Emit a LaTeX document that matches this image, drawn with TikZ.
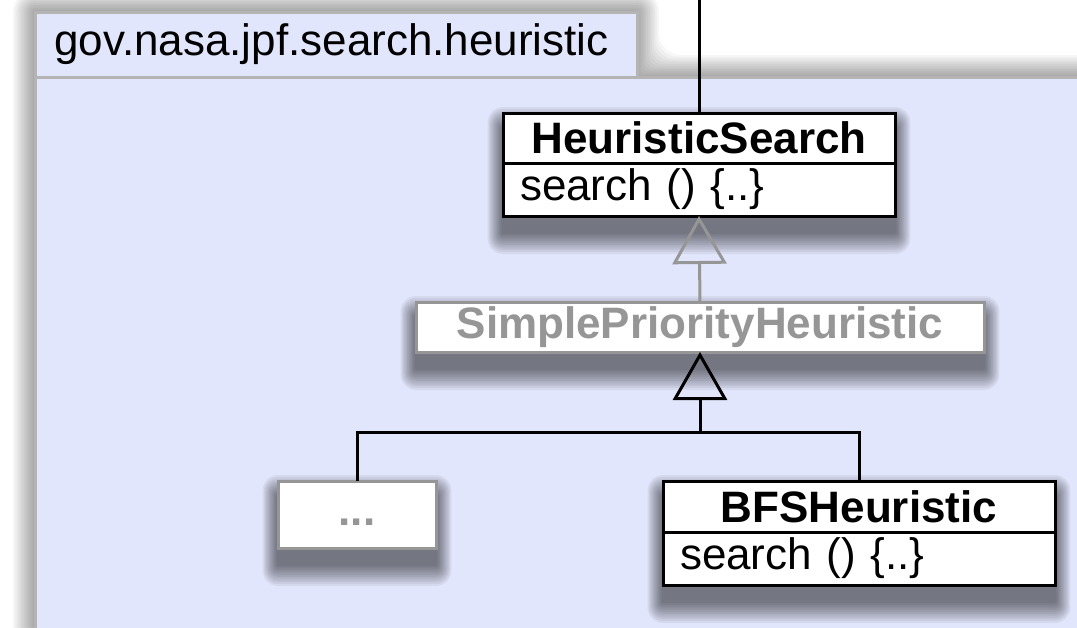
\documentclass[tikz,border=0pt]{standalone}
\usepackage{fontspec}
\setmainfont{Liberation Sans}
\usetikzlibrary{arrows.meta}
\pgfdeclarelayer{pkglayer}
\pgfdeclarelayer{shadelayer}
\pgfsetlayers{pkglayer,shadelayer,main}
\definecolor{pkgfill}{RGB}{226,230,252}
\definecolor{pkgline}{RGB}{180,180,180}
\definecolor{faded}{RGB}{150,150,150}

% soft shadow built from stacked translucent rectangles
% #1 north-west corner, #2 south-east corner, #3 downward offset,
% #4 spread, #5 opacity of each layer
\newcommand\softshade[5]{%
  \foreach \k in {0,...,11}{%
    \pgfmathsetmacro\grow{#4*(1-\k/12)}%
    \pgfmathsetmacro\growx{0.7*\grow}%
    \fill[black, fill opacity=#5, rounded corners=\growx*0.5pt]
      ([shift={(-\growx,-\grow+#3)}]#1) rectangle ([shift={(\growx,\grow+#3)}]#2);
  }}

\begin{document}
\begin{tikzpicture}[x=0.5pt,y=-0.5pt,
  umlfont/.style={font=\fontsize{22}{26}\selectfont},
  namebox/.style={draw=black, line width=1.5pt, fill=white, minimum width=196pt,
    minimum height=25pt, inner sep=0pt, outer sep=0pt,
    font=\bfseries\fontsize{22}{26}\selectfont},
  bodybox/.style={draw=black, line width=1.5pt, fill=white, minimum width=196pt,
    minimum height=26.5pt, inner xsep=8.5pt, inner ysep=0pt, outer sep=0pt,
    text width=179pt, align=left, umlfont, anchor=north},
  fadedbox/.style={draw=faded, text=faded, line width=1.5pt, fill=white,
    inner sep=0pt, outer sep=0pt, font=\bfseries\fontsize{22}{26}\selectfont},
  link/.style={line width=1.5pt, draw=black},
  gen/.style={link, -{Triangle[open, length=24pt, width=27pt]}},
]
\useasboundingbox (0,0) rectangle (1077,627);

% package with its tab, over a soft halo
\begin{pgfonlayer}{pkglayer}
  \fill[white] (0,0) rectangle (1077,627);
  \foreach \k in {0,...,11}{%
    \pgfmathsetmacro\g{22*(1-\k/12)}%
    \fill[black, fill opacity=0.03, rounded corners=\g*0.5pt]
      (35-\g,12-\g) -- (637+\g,12-\g) -- (637+\g,77-\g) -- (1120+\g,77-\g)
      -- (1120+\g,680+\g) -- (35-\g,680+\g) -- cycle;
  }
  \draw[pkgline, fill=pkgfill, line width=1.5pt]
    (35,12) -- (637,12) -- (637,77) -- (1120,77) -- (1120,680) -- (35,680) -- cycle;
  \draw[pkgline, line width=1.5pt] (35,77) -- (637,77);
\end{pgfonlayer}
\node[anchor=base west, inner sep=0pt, umlfont] (pkgname) at (54,55)
  {gov.nasa.jpf.search.heuristic};

% classes
\node[namebox] (hsN) at (699,138) {HeuristicSearch};
\node[bodybox] (hsB) at (hsN.south) {search () \{..\}};

\node[fadedbox, minimum width=284pt, minimum height=25pt] (spN) at (700,327)
  {SimplePriorityHeuristic};

\node[fadedbox, minimum width=79pt, minimum height=33.5pt,
  text height=15.8pt, text depth=4.6pt] (dots) at (357,514.5) {...};

\node[namebox, minimum height=25.5pt] (bfsN) at (859,506.5) {BFSHeuristic};
\node[bodybox] (bfsB) at (bfsN.south) {search () \{..\}};

% drop shadows of the classes
\begin{pgfonlayer}{shadelayer}
  \softshade{hsN.north west}{hsB.south east}{16}{22}{0.05}
  \softshade{spN.north west}{spN.south east}{16}{22}{0.05}
  \softshade{dots.north west}{dots.south east}{16}{22}{0.05}
  \softshade{bfsN.north west}{bfsB.south east}{16}{22}{0.05}
\end{pgfonlayer}

% connectors
\coordinate (above) at (699,-10);
\coordinate (bar) at (700,432);
\draw[link] (above) -- (hsN.north);
\draw[gen, draw=faded] (spN.north) -- (hsB.south);
\draw[gen] (bar) -- (spN.south);
\draw[link] (dots.north) |- (bar) -| (bfsN.north);
\end{tikzpicture}
\end{document}
